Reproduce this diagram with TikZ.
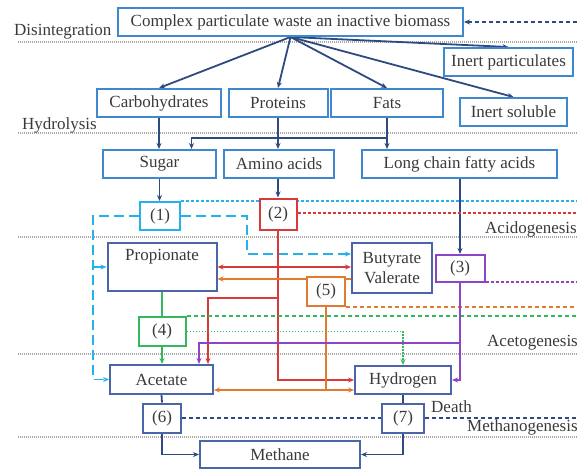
\documentclass[tikz,border=0pt]{standalone}
\usepackage{fontspec}
\setmainfont{Liberation Serif}
\usetikzlibrary{arrows.meta,backgrounds}
\definecolor{bb}{HTML}{3F87CF}
\definecolor{db}{HTML}{4A66A6}
\definecolor{ar}{HTML}{2E4A80}
\definecolor{cy}{HTML}{25B2EC}
\definecolor{rd}{HTML}{D63A3A}
\definecolor{og}{HTML}{E07B30}
\definecolor{gn}{HTML}{33B85C}
\definecolor{pu}{HTML}{8E44C8}
\definecolor{tx}{HTML}{3A3A3A}
\definecolor{gl}{HTML}{A8A8A8}
\begin{document}
\begin{tikzpicture}[x=1pt,y=-1pt,
  font=\fontsize{17}{20}\selectfont, text=tx,
  boxa/.style={draw=bb,line width=2pt,fill=white,inner sep=0pt},
  boxb/.style={draw=db,line width=2pt,fill=white,inner sep=0pt},
  pbox/.style={line width=2pt,fill=white,inner sep=0pt,minimum height=29pt},
  lbl/.style={inner sep=0pt},
  con/.style={line width=1.8pt},
  tip/.style={-{Stealth[length=6pt,width=5pt]}},
  sepline/.style={gl,line width=1.4pt,dash pattern=on 1pt off 1pt},
  dotpat/.style={dash pattern=on 3pt off 2pt},
  longd/.style={dash pattern=on 10pt off 5pt},
  dashpat/.style={dash pattern=on 4pt off 3pt},
  gdot/.style={dash pattern=on 1.5pt off 1.5pt}]
\useasboundingbox (0,0) rectangle (577,469);
\coordinate (re) at (577,0);
\coordinate (e1) at (577,22);

% boxes
\node[boxa,minimum width=345pt,minimum height=28pt] (cpx) at (290.5,22) {Complex particulate waste an inactive biomass};
\node[boxa,minimum width=129pt,minimum height=28pt] (inertp) at (508.5,62) {Inert particulates};
\node[boxa,minimum width=124pt,minimum height=28pt] (carb) at (159,103) {Carbohydrates};
\node[boxa,minimum width=99pt,minimum height=28pt] (prot) at (278,103) {Proteins};
\node[boxa,minimum width=112pt,minimum height=28pt] (fats) at (387,103) {Fats};
\node[boxa,minimum width=107pt,minimum height=28pt] (inerts) at (513.5,112) {Inert soluble};
\node[boxa,minimum width=113pt,minimum height=28pt] (sugar) at (159.5,164) {Sugar};
\node[boxa,minimum width=110pt,minimum height=28pt] (amino) at (279,164) {Amino acids};
\node[boxa,minimum width=195pt,minimum height=28pt] (lcfa) at (459.5,164) {Long chain fatty acids};
\node[pbox,draw=cy,minimum width=40pt,minimum height=28pt] (p1) at (160,216) {(1)};
\node[pbox,draw=rd,minimum width=37pt,minimum height=31pt] (p2) at (278,214) {(2)};
\node[pbox,draw=pu,minimum width=49pt,minimum height=27pt] (p3) at (460,268.5) {(3)};
\node[boxb,minimum width=109pt,minimum height=48pt,label={[lbl,anchor=north,yshift=-7pt]north:Propionate}] (prop) at (162,267) {};
\node[boxb,minimum width=80pt,minimum height=50pt,align=center] (buty) at (392,268) {Butyrate\\Valerate};
\node[pbox,draw=og,minimum width=38pt] (p5) at (326,291.5) {(5)};
\node[pbox,draw=gn,minimum width=47pt] (p4) at (162,331.5) {(4)};
\node[boxb,minimum width=103pt,minimum height=29pt] (acet) at (161.5,379.5) {Acetate};
\node[boxb,minimum width=96pt,minimum height=28pt] (hydro) at (403,380) {Hydrogen};
\node[pbox,draw=db,minimum width=38pt] (p6) at (162,418) {(6)};
\node[pbox,draw=db,minimum width=42pt] (p7) at (403,418) {(7)};
\node[boxb,minimum width=160pt,minimum height=27pt] (meth) at (280,454.5) {Methane};

% stage labels
\node[lbl,anchor=west] (l1) at (14,32) {Disintegration};
\node[lbl,anchor=west] (l2) at (22,125) {Hydrolysis};
\node[lbl,anchor=west] (l3) at (485,229) {Acidogenesis};
\node[lbl,anchor=west] (l4) at (487,343) {Acetogenesis};
\node[lbl,anchor=west] (l5) at (431,407) {Death};
\node[lbl,anchor=west] (l6) at (467,427) {Methanogenesis};

\begin{pgfonlayer}{background}
\draw[sepline] (18,42) -- (577,42);
\draw[sepline] (18,133) -- (577,133);
\draw[sepline] (18,237) -- (577,237);
\draw[sepline] (18,354) -- (577,354);
\draw[sepline] (18,437) -- (577,437);

% disintegration
\foreach \t in {carb,prot,fats,inertp,inerts} \draw[con,ar,tip] (cpx.south) -- (\t.north);
\draw[con,ar,dashpat,tip] (e1) -- (cpx.east);

% hydrolysis
\draw[con,ar,tip] (carb.south) -- (carb.south |- sugar.north);
\draw[con,ar,tip] (prot.south) -- (prot.south |- amino.north);
\path (fats.south) ++(0,20) coordinate (j1);
\draw[con,ar,tip] (fats.south) -- (fats.south |- lcfa.north);
\draw[con,ar,tip] (j1) -| ([xshift=32pt]sugar.north);
\draw[con,ar,tip] (sugar.south) -- (sugar.south |- p1.north);
\draw[con,ar,tip] (amino.south -| p2.north) -- (p2.north);
\draw[con,ar,tip] (lcfa.south -| p3.north) -- (p3.north);

% cyan (1)
\draw[con,cy,dotpat] (p1.north east) -- (p1.north east -| re);
\draw[con,cy,longd,tip] (p1.west) -- ++(-46,0) |- (acet.west);
\draw[con,cy,longd,tip] ([xshift=-46pt]p1.west |- prop.west) -- (prop.west);
\draw[con,cy,longd,tip] (p1.east) -- ++(66,0) -- ++(0,38) -- ([yshift=14pt]buty.west);

% red (2)
\draw[con,rd,dotpat] ([yshift=1pt]p2.east) -- ([yshift=1pt]p2.east -| re);
\draw[con,rd,tip] (p2.south) |- (hydro.west);
\draw[con,rd,tip] ([yshift=-67.5pt]p2.south) -| ([xshift=46.5pt]acet.north);
\draw[con,rd,{Stealth[length=6pt,width=5pt]}-{Stealth[length=6pt,width=5pt]}] (prop.east) -- (prop.east -| buty.west);

% orange (5)
\draw[con,og,tip] ([yshift=-11pt]buty.west) -- ([yshift=-11pt]buty.west -| prop.east);
\draw[con,og,dashpat] (p5.south east) -- (p5.south east -| re);
\draw[con,og] (p5.south) -- ++(0,83) coordinate (o1);
\draw[con,og,tip] (o1) -- (o1 -| hydro.west);
\draw[con,og,tip] (o1) -- (o1 -| acet.east);

% green (4)
\draw[con,gn] (prop.south) -- (p4.north);
\draw[con,gn,tip] (p4.south) -- (p4.south |- acet.north);
\draw[con,gn,dashpat] (p4.north east) -- (p4.north east -| re);
\draw[con,gn,gdot,tip] (p4.east) -| (hydro.north);

% purple (3)
\draw[con,pu,dotpat] ([yshift=1pt]p3.south east) -- ([yshift=1pt]p3.south east -| re);
\draw[con,pu,tip] (p3.south) |- (hydro.east);
\draw[con,pu,tip] ([yshift=-60pt]p3.south) -| ([xshift=37.5pt]acet.north);

% methanogenesis
\draw[con,ar] (acet.south) -- (p6.north);
\draw[con,ar,tip] (p6.south) |- (meth.west);
\draw[con,ar] (hydro.south) -- (p7.north);
\draw[con,ar,tip] (p7.south) |- (meth.east);
\draw[con,ar,dashpat] (p6.east) -- (p7.west);
\draw[con,ar,dashpat] (p7.east) -- (p7.east -| re);
\end{pgfonlayer}
\end{tikzpicture}
\end{document}
